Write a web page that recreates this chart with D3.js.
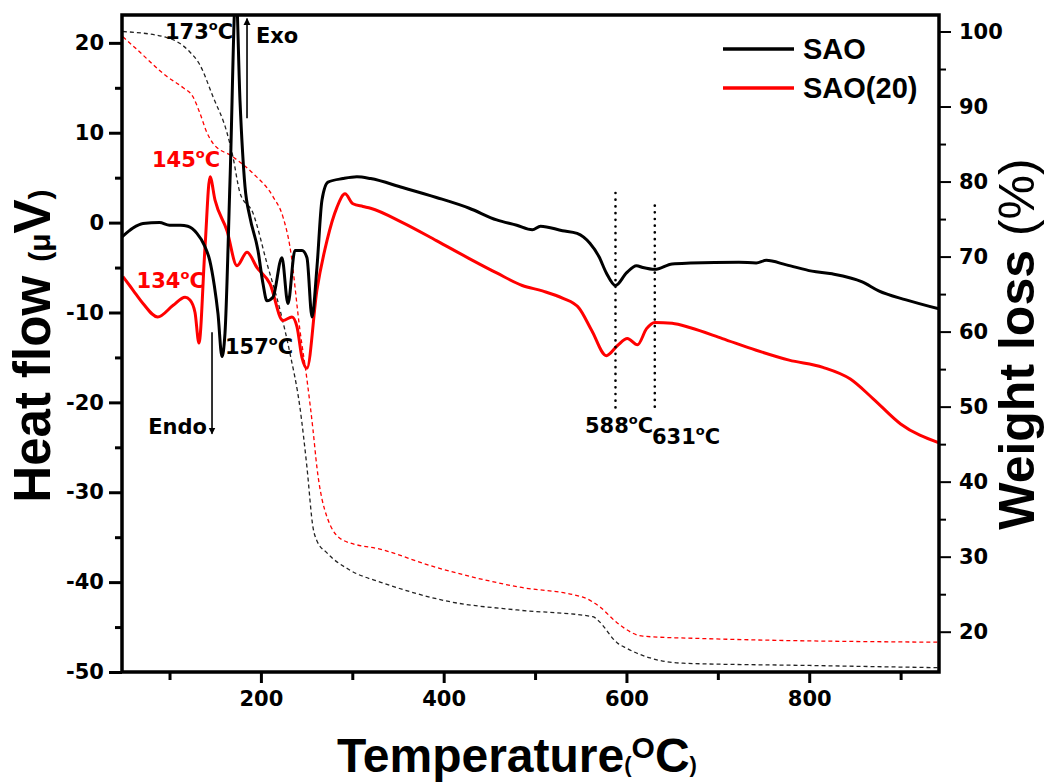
<!DOCTYPE html>
<html><head><meta charset="utf-8">
<script src="https://cdn.jsdelivr.net/npm/d3@7"></script>
<style>body{margin:0;background:#fff;} svg{display:block;}</style>
</head><body>
<svg id="chart" width="1047" height="784"></svg>
<script>
// ---------- data ----------
const xTicksMajor = [200, 400, 600, 800];
const xTicksMinor = [100, 300, 500, 700, 900];
const yLeftTicks = [-50, -40, -30, -20, -10, 0, 10, 20];
const yLeftMinor = [-45, -35, -25, -15, -5, 5, 15];
const yRightTicks = [20, 30, 40, 50, 60, 70, 80, 90, 100];
const yRightMinor = [25, 35, 45, 55, 65, 75, 85, 95];
const seriesNames = ["SAO", "SAO(20)"];

// DTA heat flow (uV) vs temperature (C)
const saoDTA = [
  [48,-1.6],[60,-0.6],[71,-0.1],[89,0.0],[100,-0.3],[112,-0.3],[120,-0.4],[130,-1.2],
  [138,-2.5],[144,-4.2],[149,-7.0],[153,-10.1],[157.4,-14.9],[160.7,-12.3],[166.2,4.7],
  [172.7,26],[177.1,13.6],[182.6,4.0],[188,0.6],[196.8,-3.1],[202.3,-6.8],[206.6,-8.7],
  [213.2,-8.3],[223,-3.9],[229.6,-9.0],[237.3,-3.1],[245,-3.1],[250.4,-3.9],[255.9,-10.5],
  [261.3,-5.0],[266.8,2.5],[273.4,4.5],[289.8,4.9],[305,5.1],[320,4.9],[355,3.9],
  [392,2.8],[428,1.6],[458,0.3],[480,-0.3],[497,-0.8],[506,-0.4],[530,-0.9],[546,-1.2],
  [560,-2.3],[570,-3.8],[578,-5.6],[588,-7.0],[600,-5.6],[611,-4.8],[618,-5.0],
  [631,-5.2],[650,-4.6],[670,-4.5],[723,-4.4],[742,-4.5],[753,-4.2],[775,-4.7],
  [803,-5.4],[825,-5.7],[858,-6.6],[876,-7.6],[906,-8.6],[942,-9.6]
];
const sao20DTA = [
  [49,-6.0],[60,-7.5],[71,-9.0],[87,-10.5],[104,-9.2],[117,-8.3],[122.4,-8.6],[127.9,-10.0],
  [132.2,-13.4],[138.8,-2.8],[144.3,5.1],[149.8,2.5],[162.9,-0.9],[173.8,-4.8],[184.8,-3.3],
  [195.7,-5.0],[209.9,-6.8],[224.1,-10.9],[234,-10.5],[239.5,-11.6],[244.9,-15.0],
  [250.4,-16.2],[261.3,-7.5],[272.3,-2.0],[283.2,1.7],[292,3.2],[300.7,2.1],[311.7,1.8],
  [320,1.6],[355,0.0],[392,-2.0],[428,-4.0],[458,-5.6],[486,-7.0],[508,-7.6],[530,-8.4],
  [548,-9.5],[562,-12.0],[578,-14.8],[590,-13.7],[601,-12.9],[612,-13.6],[622,-11.8],
  [631,-11.1],[650,-11.2],[670,-11.7],[705,-12.9],[742,-14.2],[778,-15.3],[815,-16.1],
  [845,-17.4],[870,-19.6],[900,-22.4],[942,-24.5]
];
// TG weight (%) vs temperature (C)
const saoTG = [
  [49,100],[97,99.2],[122,97.3],[133,95.6],[147.6,91.3],[162.9,86.5],[169.4,83.3],
  [177.1,78.5],[191.3,75.8],[206.6,69.1],[220.9,62.9],[231.8,57.1],[242.7,49.9],
  [250.4,41.9],[257,33.9],[261,32.2],[272.3,30.5],[297.5,28.2],[333.6,26.5],[406.9,24.0],
  [480.2,22.9],[563.3,22.0],[569,21.5],[590,18.5],[600,17.8],[626,16.5],[662,15.8],
  [800,15.5],[942,15.2]
];
const sao20TG = [
  [49,99.3],[64.4,97.6],[97.2,94.0],[115,92.5],[125.7,91.3],[133.3,89.1],[141,86.5],
  [147.6,85.1],[169.4,83.3],[191.3,81.1],[213.2,78.0],[224.1,75.3],[231.8,71.3],
  [242.7,60.2],[250.4,53.6],[257,46.9],[261.3,41.9],[272.3,35.3],[289.8,32.2],[333.6,30.9],
  [388.3,28.7],[480.2,26.0],[552.4,24.6],[571,23.3],[589.6,21.2],[618,19.4],[680.4,19.1],
  [942,18.6]
];

// ---------- layout ----------
const svg = d3.select("#chart");
const m = {l:122, r:939, t:15, b:672};
const x = d3.scaleLinear().domain([48, 942]).range([m.l, m.r]);
const yL = d3.scaleLinear().domain([-50, 23.1]).range([m.b, m.t]);
const yR = d3.scaleLinear().domain([14.63, 102.2]).range([m.b, m.t]);
const BLACK = "#000", RED = "#ff0000";
const tickFont = "'DejaVu Sans', sans-serif";
const titleFont = "'Liberation Sans', Arial, sans-serif";

svg.append("defs").append("clipPath").attr("id","plotclip")
  .append("rect").attr("x",m.l).attr("y",m.t).attr("width",m.r-m.l).attr("height",m.b-m.t);

const plot = svg.append("g").attr("clip-path","url(#plotclip)");

const lineL = d3.line().x(d=>x(d[0])).y(d=>yL(d[1])).curve(d3.curveMonotoneX);
const lineR = d3.line().x(d=>x(d[0])).y(d=>yR(d[1])).curve(d3.curveMonotoneX);

// TG dashed
plot.append("path").datum(saoTG).attr("d",lineR).attr("fill","none")
  .attr("stroke","#222").attr("stroke-width",1.3).attr("stroke-dasharray","4,3");
plot.append("path").datum(sao20TG).attr("d",lineR).attr("fill","none")
  .attr("stroke",RED).attr("stroke-width",1.3).attr("stroke-dasharray","4,3");
// DTA solid
plot.append("path").datum(sao20DTA).attr("d",lineL).attr("fill","none")
  .attr("stroke",RED).attr("stroke-width",3).attr("stroke-linejoin","round");
plot.append("path").datum(saoDTA).attr("d",lineL).attr("fill","none")
  .attr("stroke",BLACK).attr("stroke-width",3).attr("stroke-linejoin","round");

// dotted marker lines
const markers = [{t:588, top:3.3, bot:-20.9},{t:631, top:1.9, bot:-20.9}];
svg.selectAll(".mk").data(markers).enter().append("line")
  .attr("x1",d=>x(d.t)).attr("x2",d=>x(d.t)).attr("y1",d=>yL(d.top)).attr("y2",d=>yL(d.bot))
  .attr("stroke","#000").attr("stroke-width",2.6).attr("stroke-linecap","round")
  .attr("stroke-dasharray","0.1,6.6");

// ---------- axes ----------
function styleAxis(g, sw){
  g.select(".domain").remove();
  g.selectAll(".tick line").attr("stroke","#000").attr("stroke-width",sw);
  g.selectAll(".tick text").attr("fill","#000").style("font-family",tickFont)
    .style("font-weight","bold").style("font-size","21px");
}
const fmt = d => String(d);
const gl = svg.append("g").attr("transform",`translate(${m.l},0)`)
  .call(d3.axisLeft(yL).tickValues(yLeftTicks).tickSize(13).tickPadding(5).tickFormat(fmt));
styleAxis(gl,3);
const glm = svg.append("g").attr("transform",`translate(${m.l},0)`)
  .call(d3.axisLeft(yL).tickValues(yLeftMinor).tickSize(7).tickFormat(""));
styleAxis(glm,3);

const gb = svg.append("g").attr("transform",`translate(0,${m.b})`)
  .call(d3.axisBottom(x).tickValues(xTicksMajor).tickSize(11).tickPadding(8).tickFormat(fmt));
styleAxis(gb,3);
const gbm = svg.append("g").attr("transform",`translate(0,${m.b})`)
  .call(d3.axisBottom(x).tickValues(xTicksMinor).tickSize(8).tickFormat(""));
styleAxis(gbm,3);

const gr = svg.append("g").attr("transform",`translate(${m.r},0)`)
  .call(d3.axisRight(yR).tickValues(yRightTicks).tickSize(12).tickPadding(8).tickFormat(fmt));
styleAxis(gr,2);
const grm = svg.append("g").attr("transform",`translate(${m.r},0)`)
  .call(d3.axisRight(yR).tickValues(yRightMinor).tickSize(7).tickFormat(""));
styleAxis(grm,2);

// frame
svg.append("rect").attr("x",m.l).attr("y",m.t).attr("width",m.r-m.l).attr("height",m.b-m.t)
  .attr("fill","none").attr("stroke","#000").attr("stroke-width",3.5);

// ---------- titles ----------
const yt = svg.append("text").attr("transform","translate(50,346) rotate(-90)")
  .attr("text-anchor","middle").style("font-family",titleFont).style("font-weight","bold").attr("fill","#000");
yt.append("tspan").style("font-size","51px").text("Heat flow ");
yt.append("tspan").style("font-size","30px").text("(\u03bc");
yt.append("tspan").style("font-size","51px").text("V");
yt.append("tspan").style("font-size","30px").text(")");

const yr = svg.append("text").attr("transform","translate(1034,344) rotate(-90)")
  .attr("text-anchor","middle").style("font-family",titleFont).attr("fill","#000");
yr.append("tspan").style("font-size","50px").style("font-weight","bold").text("Weight loss ");
yr.append("tspan").style("font-size","50px").style("font-weight","normal").text("(%)");

const xt = svg.append("text").attr("x",337).attr("y",772)
  .style("font-family",titleFont).style("font-weight","bold").attr("fill","#000");
xt.append("tspan").style("font-size","48px").text("Temperature");
xt.append("tspan").style("font-size","22px").text("(");
xt.append("tspan").style("font-size","30px").attr("dy",-14).text("O");
xt.append("tspan").style("font-size","48px").attr("dy",14).text("C");
xt.append("tspan").style("font-size","22px").text(")");

// ---------- legend ----------
const legend = svg.append("g");
[[seriesNames[0],BLACK,49],[seriesNames[1],RED,88]].forEach(([name,col,yy])=>{
  legend.append("line").attr("x1",723).attr("x2",794).attr("y1",yy).attr("y2",yy)
    .attr("stroke",col).attr("stroke-width",3.5);
  legend.append("text").attr("x",803).attr("y",yy+10).text(name)
    .style("font-family",titleFont).style("font-weight","bold").style("font-size","29px").attr("fill","#000");
});

// ---------- annotations ----------
const notes = [
  {t:95, v:20.4, num:"173", col:BLACK},
  {t:80.8, v:6.2, num:"145", col:RED},
  {t:64, v:-7.3, num:"134", col:RED},
  {t:160.7, v:-14.6, num:"157", col:BLACK},
  {t:554.6, v:-23.4, num:"588", col:BLACK},
  {t:627.9, v:-24.6, num:"631", col:BLACK}
];
notes.forEach(n=>{
  const tx = svg.append("text").attr("x",x(n.t)).attr("y",yL(n.v)).attr("fill",n.col)
    .style("font-family",tickFont).style("font-weight","bold");
  tx.append("tspan").style("font-size","21px").text(n.num);
  tx.append("tspan").style("font-size","13px").attr("dy",-9).text("o");
  tx.append("tspan").style("font-size","21px").attr("dy",9).text("C");
});
svg.append("text").attr("x",x(194.6)).attr("y",yL(20.0)).text("Exo")
  .style("font-family",tickFont).style("font-weight","bold").style("font-size","21px");
svg.append("text").attr("x",x(141)).attr("y",yL(-23.5)).attr("text-anchor","end").text("Endo")
  .style("font-family",tickFont).style("font-weight","bold").style("font-size","21px");

// arrows
const defs = svg.select("defs");
defs.append("marker").attr("id","ah").attr("viewBox","0 0 10 10").attr("refX",9).attr("refY",5)
  .attr("markerWidth",7).attr("markerHeight",8).attr("orient","auto").attr("markerUnits","userSpaceOnUse")
  .append("path").attr("d","M0,0 L10,5 L0,10 Z").attr("fill","#000");
const arrows = [{t:184.8, from:11.6, to:22.7},{t:146.5, from:-12.2, to:-23.5}];
arrows.forEach(a=>{
  svg.append("line").attr("x1",x(a.t)).attr("x2",x(a.t)).attr("y1",yL(a.from)).attr("y2",yL(a.to))
    .attr("stroke","#000").attr("stroke-width",1.6).attr("marker-end","url(#ah)");
});
</script>
</body></html>
